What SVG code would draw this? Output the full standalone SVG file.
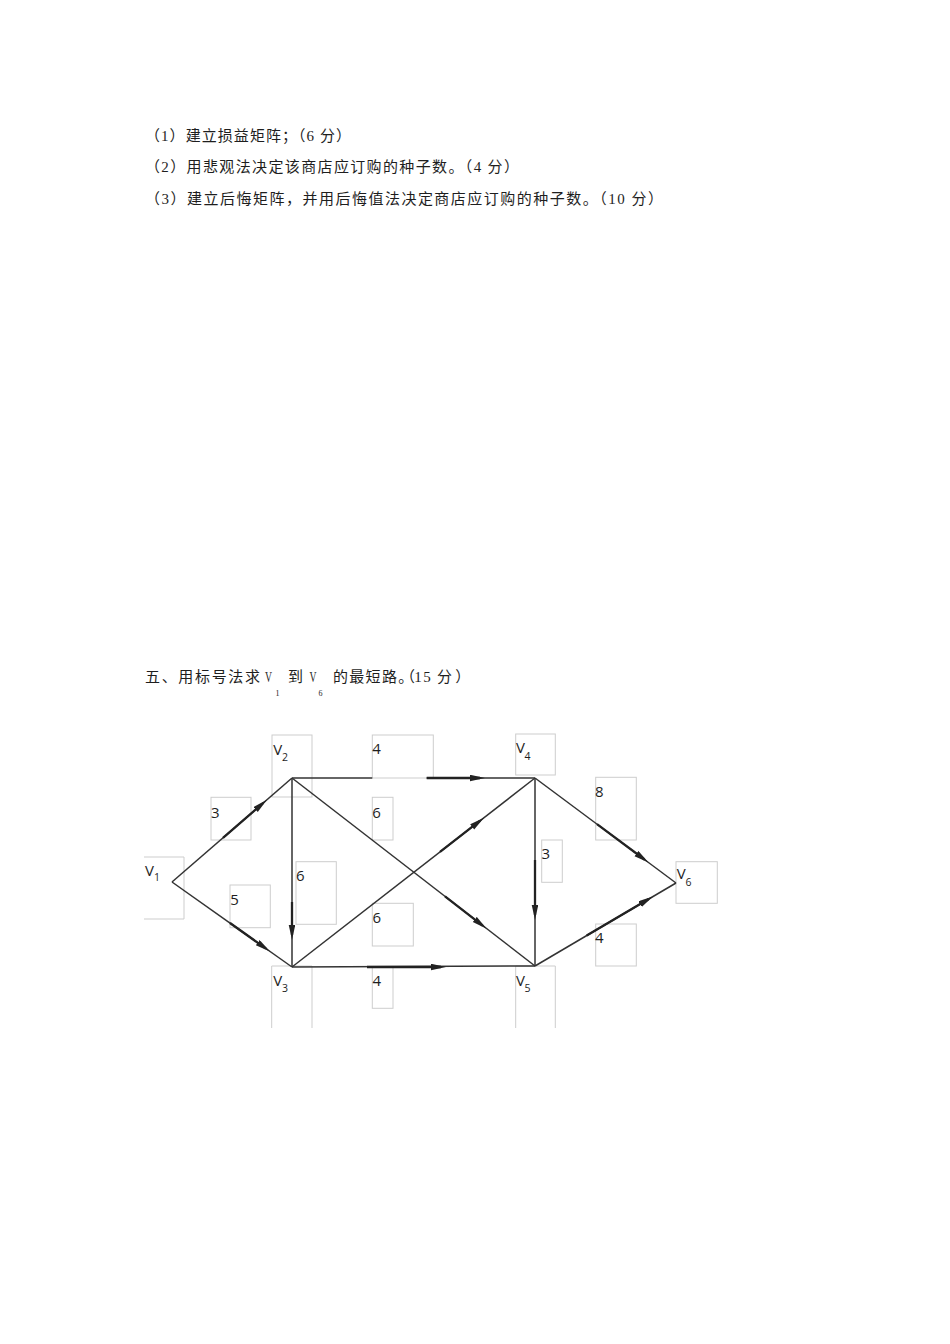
<svg xmlns="http://www.w3.org/2000/svg" width="950" height="1344" viewBox="0 0 950 1344">
<style>
.t{font-family:'Liberation Serif','Noto Sans CJK SC',serif;font-size:15px;fill:#1e1e1e}
.lb{font-family:'Open Sans','Liberation Sans',sans-serif;font-size:15px;fill:#1e1e1e}
.sb{font-size:10.5px}
.box{fill:none;stroke:#cdcdcd;stroke-width:1}
.e{stroke:#333333;stroke-width:1.5;fill:none}
.a{stroke:#222222;stroke-width:2.3;fill:none;marker-end:url(#ah)}
</style>
<defs>
<marker id="ah" markerUnits="userSpaceOnUse" markerWidth="17" markerHeight="8" refX="10" refY="3.25" orient="auto">
<path d="M0,0 L15,3.25 L0,6.5 z" fill="#222222"/>
</marker>
</defs>
<rect width="950" height="1344" fill="#ffffff"/>

<g id="questions">
<text class="t" x="145" y="140.5" textLength="206" lengthAdjust="spacing">（1）建立损益矩阵；（6 分）</text>
<text class="t" x="145" y="172" textLength="374" lengthAdjust="spacing">（2）用悲观法决定该商店应订购的种子数。（4 分）</text>
<text class="t" x="145" y="204" textLength="518" lengthAdjust="spacing">（3）建立后悔矩阵，并用后悔值法决定商店应订购的种子数。（10 分）</text>
</g>

<g id="title">
<text class="t" x="145" y="682" letter-spacing="1.67">五、用标号法求</text>
<text class="t" x="265" y="682" textLength="7" lengthAdjust="spacingAndGlyphs">V</text>
<text class="t" x="275.5" y="696" style="font-size:8px">1</text>
<text class="t" x="288" y="682">到</text>
<text class="t" x="309.5" y="682" textLength="7" lengthAdjust="spacingAndGlyphs">V</text>
<text class="t" x="318.5" y="696" style="font-size:8px">6</text>
<text class="t" x="333" y="682" letter-spacing="1.3">的最短路。<tspan dx="-7">（</tspan><tspan dx="-2">15 分</tspan><tspan dx="2">）</tspan></text>
</g>

<g id="boxes">
<path class="box" d="M144,857 H184 V919 H144"/>
<rect class="box" x="272" y="735" width="40" height="62"/>
<rect class="box" x="372.3" y="735" width="61" height="43"/>
<rect class="box" x="515.7" y="734" width="39.6" height="41"/>
<rect class="box" x="211" y="797.3" width="40" height="42.7"/>
<rect class="box" x="372.3" y="797.3" width="20.7" height="42.7"/>
<rect class="box" x="296" y="861.7" width="40.3" height="62.6"/>
<rect class="box" x="230" y="885" width="40.3" height="42.7"/>
<rect class="box" x="372.3" y="903.3" width="41" height="42.7"/>
<rect class="box" x="372.3" y="966.7" width="20.7" height="41.6"/>
<path class="box" d="M271.7,1028 V966 H312 V1028"/>
<rect class="box" x="595.7" y="777.3" width="40.6" height="62.7"/>
<rect class="box" x="541.7" y="840" width="20.6" height="42.3"/>
<rect class="box" x="676" y="861.7" width="41.3" height="41.6"/>
<rect class="box" x="595.7" y="924" width="40.6" height="42"/>
<path class="box" d="M515.7,1028 V966 H555.3 V1028"/>
</g>

<g id="connectors">
<line class="e" x1="172" y1="882" x2="292" y2="778"/>
<line class="e" x1="172" y1="882" x2="292" y2="967"/>
<line class="e" x1="292" y1="778" x2="292" y2="967"/>
<line class="e" x1="292" y1="778" x2="372.3" y2="778"/>
<line class="e" x1="426.7" y1="778" x2="535" y2="778"/>
<line class="e" x1="292" y1="778" x2="535" y2="966"/>
<line class="e" x1="292" y1="967" x2="535" y2="778"/>
<line class="e" x1="292" y1="967" x2="535" y2="966"/>
<line class="e" x1="535" y1="778" x2="535" y2="966"/>
<line class="e" x1="535" y1="778" x2="676" y2="883"/>
<line class="e" x1="535" y1="966" x2="676" y2="883"/>

<line class="a" x1="223" y1="837.8" x2="263.2" y2="803"/>
<line class="a" x1="230" y1="923" x2="265.9" y2="948.5"/>
<line class="a" x1="292" y1="902" x2="292" y2="935"/>
<line class="a" x1="426.7" y1="778" x2="480" y2="778"/>
<line class="a" x1="445" y1="896.4" x2="482.7" y2="925.6"/>
<line class="a" x1="440" y1="851.8" x2="480.1" y2="820.7"/>
<line class="a" x1="367" y1="967" x2="441" y2="967"/>
<line class="a" x1="535" y1="860" x2="535" y2="915"/>
<line class="a" x1="597" y1="824.2" x2="644.5" y2="859.5"/>
<line class="a" x1="586.7" y1="935.6" x2="648.7" y2="899"/>
</g>

<g id="node-v1"><text class="lb" x="145" y="876">V</text><text class="lb sb" x="154" y="881">1</text></g>
<g id="node-v2"><text class="lb" x="273.3" y="755">V</text><text class="lb sb" x="282" y="761">2</text></g>
<g id="node-v3"><text class="lb" x="273.3" y="986">V</text><text class="lb sb" x="282" y="992">3</text></g>
<g id="node-v4"><text class="lb" x="516" y="752.7">V</text><text class="lb sb" x="524.5" y="759.5">4</text></g>
<g id="node-v5"><text class="lb" x="516" y="986">V</text><text class="lb sb" x="524.5" y="992">5</text></g>
<g id="node-v6"><text class="lb" x="676.7" y="879.3">V</text><text class="lb sb" x="685.5" y="886">6</text></g>

<g id="edge-labels">
<text class="lb" x="211" y="817.7">3</text>
<text class="lb" x="230.3" y="905">5</text>
<text class="lb" x="296" y="880.7">6</text>
<text class="lb" x="372.3" y="754.3">4</text>
<text class="lb" x="372.3" y="817.7">6</text>
<text class="lb" x="372.5" y="922.7">6</text>
<text class="lb" x="372.5" y="986">4</text>
<text class="lb" x="541.5" y="859.3">3</text>
<text class="lb" x="595" y="796.7">8</text>
<text class="lb" x="595" y="943.3">4</text>
</g>
</svg>
